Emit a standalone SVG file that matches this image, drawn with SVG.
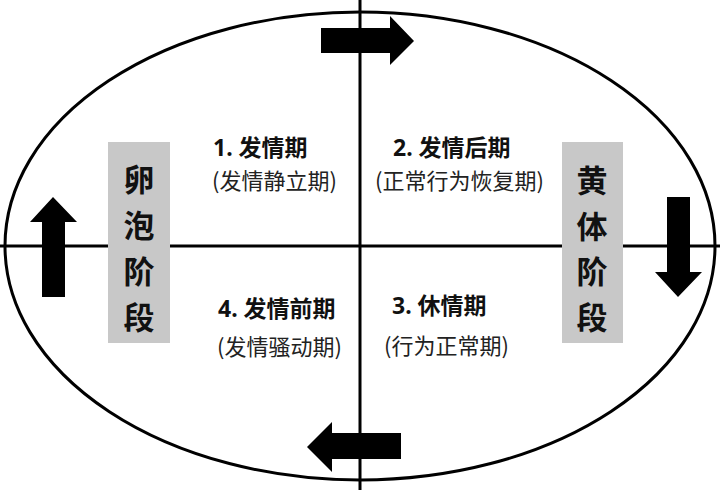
<svg xmlns="http://www.w3.org/2000/svg" width="720" height="490" viewBox="0 0 720 490">
<style>
.ln{stroke:#000;stroke-width:3;fill:none}
.ar{fill:#000}
.box{fill:#c8c8c8}
.bt{font-family:"Noto Sans CJK SC","Noto Sans",sans-serif;font-weight:bold;font-size:31px;fill:#111;text-anchor:middle}
.t{font-family:"Noto Sans","Noto Sans CJK SC",sans-serif;font-weight:bold;font-size:23px;fill:#111}
.s{font-family:"Noto Sans CJK SC",sans-serif;font-size:22px;fill:#222}
</style>
<rect width="720" height="490" fill="#fff"/>
<g id="connectors">
<ellipse class="ln" cx="360" cy="246" rx="355" ry="234"/>
<line class="ln" x1="360" y1="0" x2="360" y2="490"/>
<line class="ln" x1="0" y1="246" x2="720" y2="246"/>
<polygon id="arrow-right" class="ar" points="321,28 390,28 390,16 414,41 390,65 390,53 321,53"/>
<polygon id="arrow-left" class="ar" points="401,433 332,433 332,422 307,447 332,472 332,459 401,459"/>
<polygon id="arrow-up" class="ar" points="42,297 42,222 30,222 53,197 77,222 65,222 65,297"/>
<polygon id="arrow-down" class="ar" points="667,197 690,197 690,272 702,272 678,297 655,272 667,272"/>
</g>
<g id="follicular">
<rect class="box" x="108" y="142" width="62" height="201"/>
<text class="bt" x="139" y="191">卵</text>
<text class="bt" x="139" y="237">泡</text>
<text class="bt" x="139" y="283">阶</text>
<text class="bt" x="139" y="329">段</text>
</g>
<g id="luteal">
<rect class="box" x="562" y="142" width="61" height="201"/>
<text class="bt" x="592" y="192">黄</text>
<text class="bt" x="592" y="238">体</text>
<text class="bt" x="592" y="283">阶</text>
<text class="bt" x="592" y="329">段</text>
</g>
<g id="phase1">
<text class="t" x="213" y="156">1. 发情期</text>
<text class="s" x="212" y="189">(发情静立期)</text>
</g>
<g id="phase2">
<text class="t" x="393" y="156">2. 发情后期</text>
<text class="s" x="375" y="189">(正常行为恢复期)</text>
</g>
<g id="phase3">
<text class="t" x="392" y="314">3. 休情期</text>
<text class="s" x="384" y="354">(行为正常期)</text>
</g>
<g id="phase4">
<text class="t" x="218" y="317">4. 发情前期</text>
<text class="s" x="217" y="355">(发情骚动期)</text>
</g>
</svg>
